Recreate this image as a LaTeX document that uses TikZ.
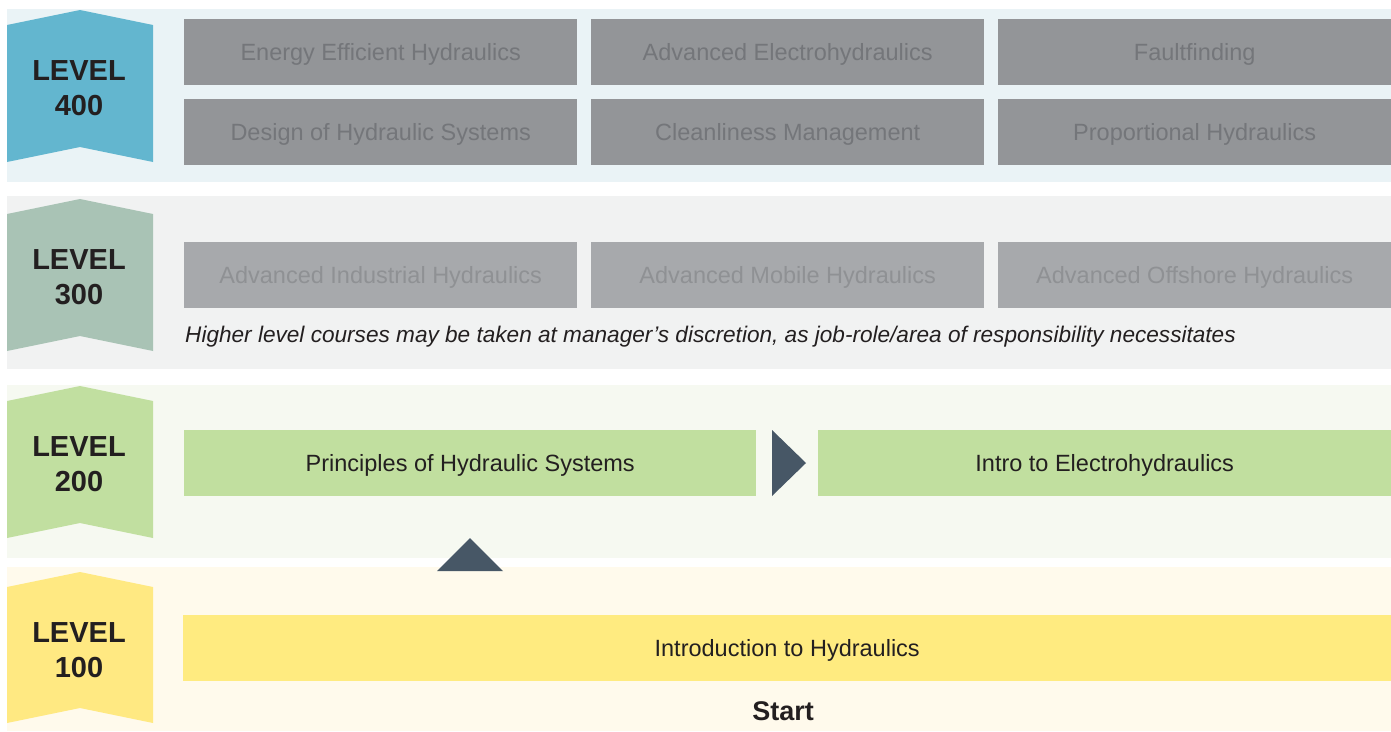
\documentclass[tikz,border=0pt]{standalone}
\usepackage{fontspec}
\setmainfont{Liberation Sans}
\definecolor{band4}{HTML}{EAF3F6}
\definecolor{band3}{HTML}{F1F2F2}
\definecolor{band2}{HTML}{F6F9F1}
\definecolor{band1}{HTML}{FFFAEC}
\definecolor{badge4}{HTML}{63B6CF}
\definecolor{badge3}{HTML}{A9C3B5}
\definecolor{badge2}{HTML}{C1DFA0}
\definecolor{badge1}{HTML}{FFE982}
\definecolor{gbox4}{HTML}{939598}
\definecolor{gtext4}{HTML}{74767A}
\definecolor{gbox3}{HTML}{A7A9AC}
\definecolor{gtext3}{HTML}{8F9194}
\definecolor{greenbox}{HTML}{C1DF9F}
\definecolor{yellowbox}{HTML}{FFEB80}
\definecolor{darktext}{HTML}{231F20}
\definecolor{tri}{HTML}{475766}
\tikzset{
  course/.style={anchor=north west, inner sep=0pt, minimum height=66pt,
    text height=17pt, text depth=-3pt,
    font=\fontsize{23.5}{28}\selectfont},
  c4/.style={course, fill=gbox4, text=gtext4},
  c3/.style={course, fill=gbox3, text=gtext3},
  c2/.style={course, fill=greenbox, text=darktext},
  c1/.style={course, fill=yellowbox, text=darktext},
  levellabel/.style={align=center, text=darktext, inner sep=0pt,
    font=\fontsize{29}{35}\bfseries\selectfont},
  arrowtri/.style={fill=tri, draw=none}
}
\begin{document}
\begin{tikzpicture}[x=1pt,y=-1pt]
\useasboundingbox (0,0) rectangle (1391,731);
\fill[white] (0,0) rectangle (1391,731);
% bands
\fill[band4] (7,9) rectangle (1391,182);
\fill[band3] (7,196) rectangle (1391,369);
\fill[band2] (7,385) rectangle (1391,558);
\fill[band1] (7,567) rectangle (1391,731);
% badges
\fill[badge4] (7,25) -- (80,10) -- (153,25) -- (153,162) -- (80,147) -- (7,162) -- cycle;
\fill[badge3] (7,214) -- (80,199) -- (153,214) -- (153,351) -- (80,336) -- (7,351) -- cycle;
\fill[badge2] (7,401) -- (80,386) -- (153,401) -- (153,538) -- (80,523) -- (7,538) -- cycle;
\fill[badge1] (7,587) -- (80,572) -- (153,587) -- (153,723) -- (80,708) -- (7,723) -- cycle;
\node[levellabel] (l4) at (79,88) {LEVEL\\400};
\node[levellabel] (l3) at (79,277) {LEVEL\\300};
\node[levellabel] (l2) at (79,464) {LEVEL\\200};
\node[levellabel] (l1) at (79,650) {LEVEL\\100};
% level 400
\node[c4, minimum width=393pt] (eeh) at (184,19) {Energy Efficient Hydraulics};
\node[c4, minimum width=393pt] (aeh) at (591,19) {Advanced Electrohydraulics};
\node[c4, minimum width=393pt] (ff) at (998,19) {Faultfinding};
\node[c4, minimum width=393pt] (dhs) at (184,99) {Design of Hydraulic Systems};
\node[c4, minimum width=393pt] (cm) at (591,99) {Cleanliness Management};
\node[c4, minimum width=393pt] (ph) at (998,99) {Proportional Hydraulics};
% level 300
\node[c3, minimum width=393pt] (aih) at (184,242) {Advanced Industrial Hydraulics};
\node[c3, minimum width=393pt] (amh) at (591,242) {Advanced Mobile Hydraulics};
\node[c3, minimum width=393pt] (aoh) at (998,242) {Advanced Offshore Hydraulics};
\node[anchor=west, inner sep=0pt, text=darktext,
  font=\fontsize{22.6}{26}\itshape\selectfont] (note) at (185,336.5)
  {Higher level courses may be taken at manager’s discretion, as job-role/area of responsibility necessitates};
% level 200
\node[c2, minimum width=572pt] (phs) at (184,430) {Principles of Hydraulic Systems};
\node[c2, minimum width=573pt] (ieh) at (818,430) {Intro to Electrohydraulics};
\fill[arrowtri] (772,430) -- (806,463) -- (772,496) -- cycle;
% level 100
\node[c1, minimum width=1208pt] (ith) at (183,615) {Introduction to Hydraulics};
\fill[arrowtri] (437,571) -- (470,538) -- (503,571) -- cycle;
\node[text=darktext, inner sep=0pt, font=\fontsize{27}{32}\bfseries\selectfont] (start) at (783,711) {Start};
\end{tikzpicture}
\end{document}
